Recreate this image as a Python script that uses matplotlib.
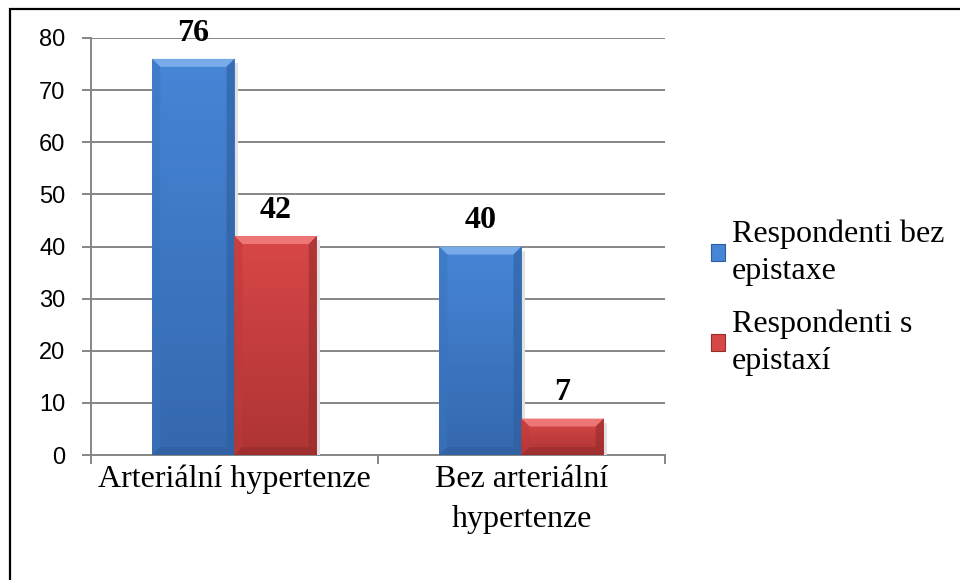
import numpy as np
import matplotlib
matplotlib.use("Agg")
import matplotlib.pyplot as plt
from matplotlib.patches import Polygon, Rectangle
from matplotlib.colors import LinearSegmentedColormap

categories = ["Arteriální hypertenze", "Bez arteriální\nhypertenze"]
series_names = ["Respondenti bez\nepistaxe", "Respondenti s\nepistaxí"]
bez_epistaxe = [76, 40]
s_epistaxi = [42, 7]

# face gradient (top, bottom), bevel top, bevel sides
styles = [
    {"top": "#4686D6", "bottom": "#3468AE", "light": "#7DB0EC", "side": "#3A74BE", "dark": "#2E5E9E"},
    {"top": "#D84747", "bottom": "#AE3434", "light": "#F07C7C", "side": "#BE3A3A", "dark": "#962C2C"},
]

fig = plt.figure(figsize=(9.6, 5.8), dpi=100)
ax = fig.add_axes([91 / 960, 1 - 455 / 580, 574 / 960, 417 / 580])

x = np.arange(len(categories))
width = 0.2865
grid_col = "#868686"

ax.set_xlim(-0.5, len(categories) - 0.5)
ax.set_ylim(0, 80)
ax.set_yticks(range(0, 81, 10))
ax.yaxis.grid(True, color=grid_col, linewidth=1.4)
ax.set_axisbelow(True)
for s in ["top", "right"]:
    ax.spines[s].set_visible(False)
for s in ["left", "bottom"]:
    ax.spines[s].set_color(grid_col)
    ax.spines[s].set_linewidth(1.4)

ax.tick_params(axis="y", length=6.5, width=1.4, color=grid_col, pad=12,
               labelsize=17, labelfontfamily="Liberation Sans")
ax.set_xticks(np.arange(len(categories) + 1) - 0.5)
ax.set_xticklabels([])
ax.tick_params(axis="x", which="major", length=6.5, width=1.4, color=grid_col)
ax.set_xticks(x, minor=True)
ax.set_xticklabels(categories, minor=True, fontsize=23, fontfamily="Liberation Serif",
                   linespacing=1.5)
ax.tick_params(axis="x", which="minor", length=0, pad=7)

fig.canvas.draw()
inv = ax.transData.inverted()
p0 = inv.transform((0, 0))
p1 = inv.transform((8, 8))
bx, by = p1 - p0


def bevel_bar(x0, h, st):
    x1 = x0 + width
    grad = LinearSegmentedColormap.from_list("g", [st["bottom"], st["top"]])
    bar = ax.bar(x0, h, width, align="edge", color=st["top"], linewidth=0, zorder=3)[0]
    img = ax.imshow(np.linspace(0, 1, 100).reshape(-1, 1), cmap=grad, origin="lower",
                    extent=(x0, x1, 0, h), aspect="auto", zorder=3.1)
    img.set_clip_path(bar)
    # soft shadow on the right
    ax.add_patch(Rectangle((x1, 0), bx * 0.4, h - by * 0.5, color="#e2e2e2",
                           linewidth=0, zorder=2.9))
    d = min(by, h / 3)
    polys = [
        ([(x0, h), (x1, h), (x1 - bx, h - d), (x0 + bx, h - d)], st["light"], 0.9),
        ([(x0, 0), (x0, h), (x0 + bx, h - d), (x0 + bx, d)], st["side"], 0.5),
        ([(x1, 0), (x1, h), (x1 - bx, h - d), (x1 - bx, d)], st["dark"], 0.6),
        ([(x0, 0), (x1, 0), (x1 - bx, d), (x0 + bx, d)], st["dark"], 0.6),
    ]
    for pts, c, a in polys:
        ax.add_patch(Polygon(pts, closed=True, facecolor=c, edgecolor="none",
                             alpha=a, zorder=3.2))
    ax.annotate(str(h), (x0 + width / 2, h), xytext=(0, 8), textcoords="offset points",
                ha="center", va="bottom", fontsize=23, fontweight="bold",
                fontfamily="Liberation Serif", zorder=5)


for i in range(len(categories)):
    bevel_bar(x[i] - width, bez_epistaxe[i], styles[0])
    bevel_bar(x[i], s_epistaxi[i], styles[1])

ax.set_xlim(-0.5, len(categories) - 0.5)
ax.set_ylim(0, 80)

handles = [Rectangle((0, 0), 1, 1, facecolor=st["top"], edgecolor=st["dark"], linewidth=0.8)
           for st in styles]
leg = fig.legend(handles, series_names, loc="center left",
                 bbox_to_anchor=(711 / 960, 1 - 298 / 580),
                 frameon=False, prop={"family": "Liberation Serif", "size": 23},
                 handlelength=0.45, handleheight=0.45, handletextpad=0.2, labelspacing=0.75,
                 borderaxespad=0, borderpad=0)
for t in leg.get_texts():
    t.set_linespacing(1.35)

# outer frame
fig.patches.append(Rectangle((10 / 960, -0.1), 1.0, 1 - 9 / 580 + 0.1, transform=fig.transFigure,
                             fill=False, edgecolor="black", linewidth=1.6))

fig.savefig("out.png", dpi=100)
